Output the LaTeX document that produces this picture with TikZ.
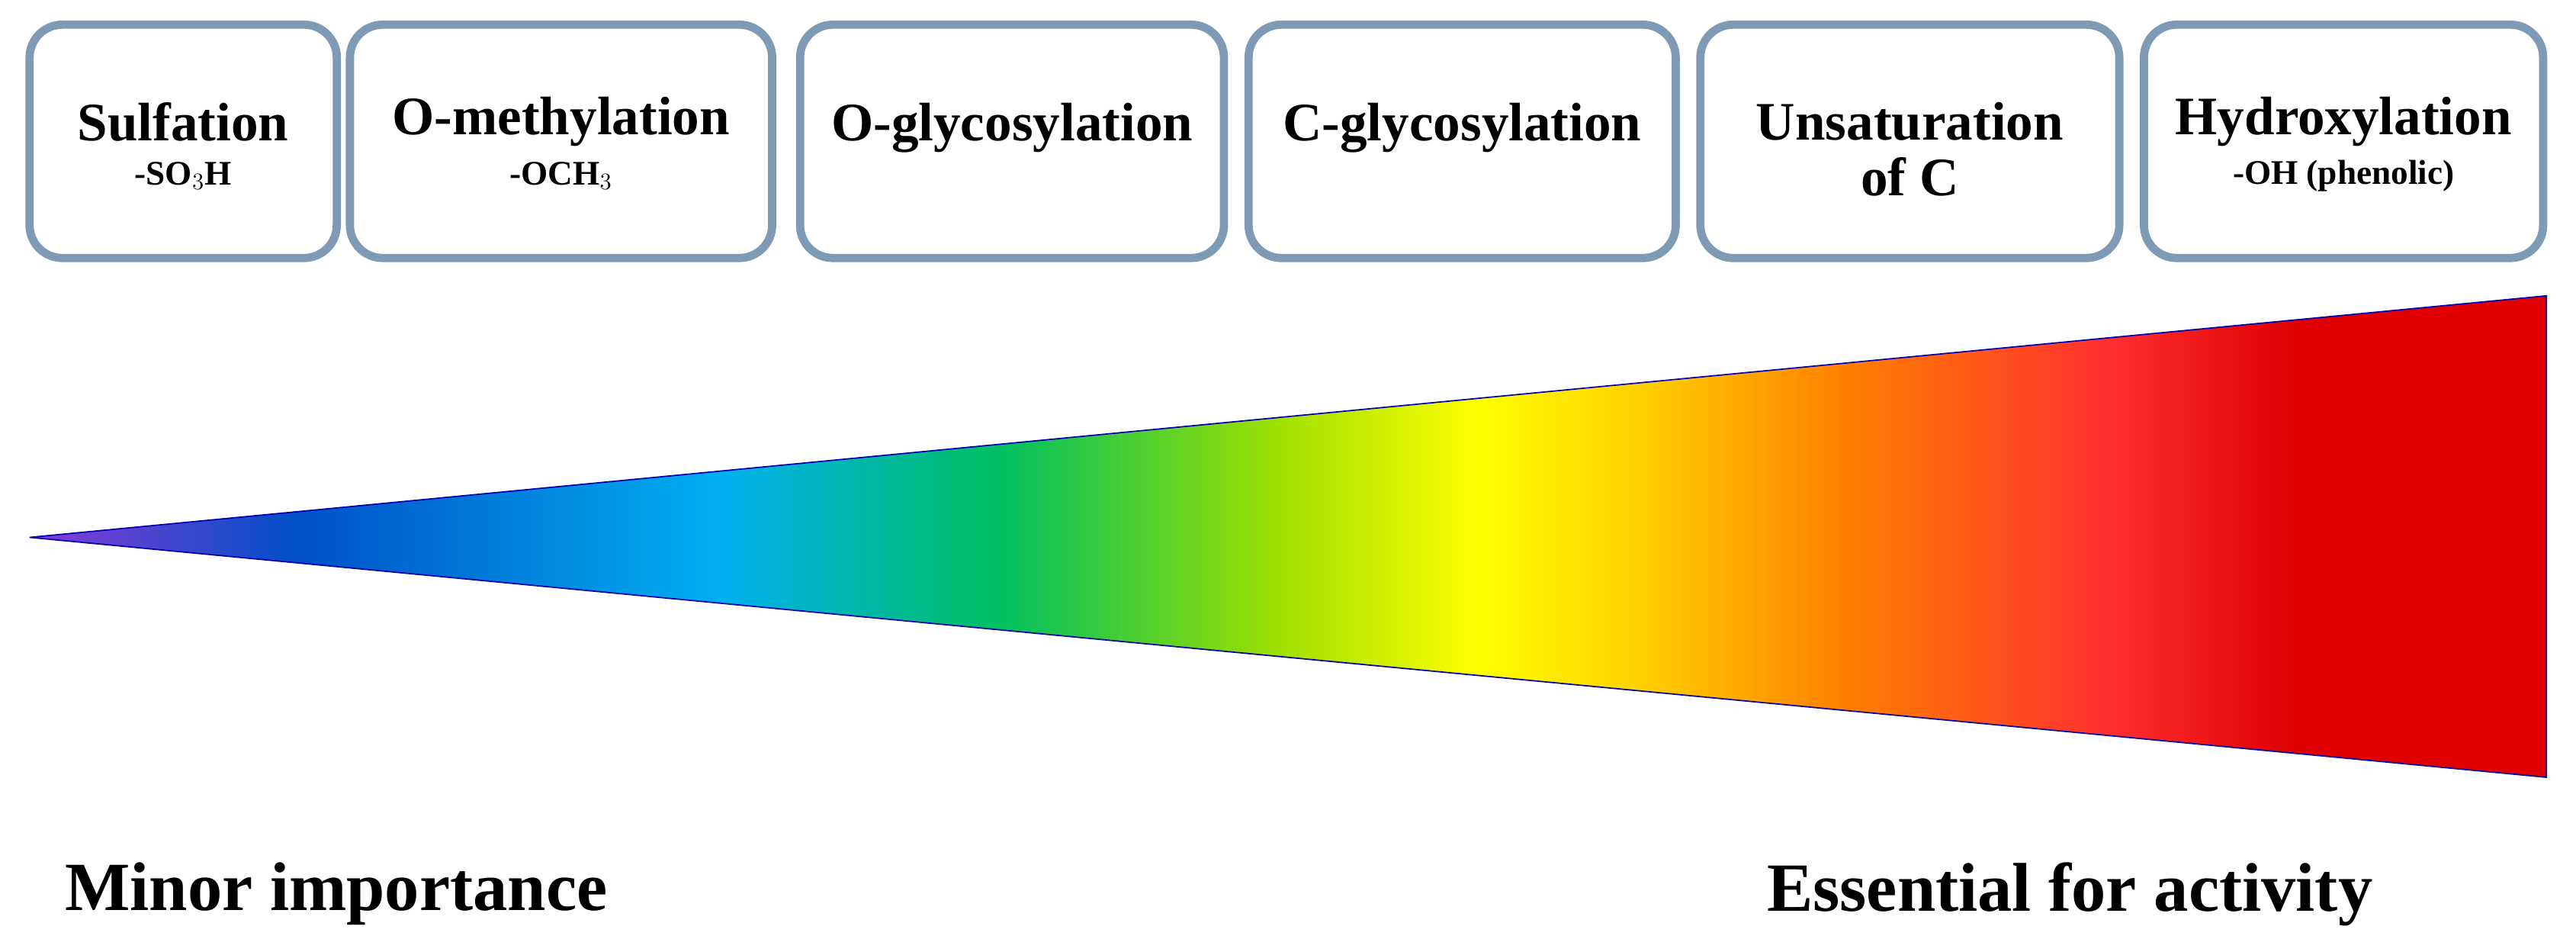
\documentclass[tikz,border=0pt]{standalone}
\usepackage{fontspec}
\setmainfont{Liberation Serif}
\definecolor{boxc}{HTML}{7F9AB5}
\definecolor{c0}{HTML}{8A3AD8}
\definecolor{c1}{HTML}{0050C8}
\definecolor{c2}{HTML}{00B0F0}
\definecolor{c3}{HTML}{00C060}
\definecolor{c4}{HTML}{A0E000}
\definecolor{c5}{HTML}{FFFF00}
\definecolor{c6}{HTML}{FFD000}
\definecolor{c7}{HTML}{FF8000}
\definecolor{c8}{HTML}{FF3030}
\definecolor{c9}{HTML}{E00000}
\pgfdeclarehorizontalshading{rainbow}{100bp}{color(0bp)=(c0); color(25bp)=(c0); color(30.3bp)=(c1); color(38.75bp)=(c2); color(44.3bp)=(c3); color(49.85bp)=(c4); color(53.8bp)=(c5); color(57bp)=(c6); color(61bp)=(c7); color(66.25bp)=(c8); color(70bp)=(c9); color(100bp)=(c9)}
\tikzset{mbox/.style={draw=boxc,line width=5pt,rounded corners=20pt,fill=white},
 ttl/.style={font=\bfseries\fontsize{33}{34}\selectfont,align=center},
 sub/.style={font=\bfseries\fontsize{21}{24}\selectfont},
 big/.style={font=\bfseries\fontsize{42}{48}\selectfont,anchor=west}}
\begin{document}
\begin{tikzpicture}[x=1pt,y=-1pt]
\useasboundingbox (0,0) rectangle (1568,571);
\foreach \n/\a/\b in {b1/18/205,b2/213/470,b3/487/745,b4/760/1020,b5/1035/1290,b6/1305/1548}
  \draw[mbox] (\a,15) rectangle (\b,157) coordinate[pos=0.5] (\n);
\node[ttl] (t1) at ([yshift=12pt]b1) {Sulfation};
\node[sub] (s1) at ([yshift=-21pt]b1) {-SO$_3$H};
\node[ttl] (t2) at ([yshift=12pt]b2) {O-methylation};
\node[sub] (s2) at ([yshift=-21pt]b2) {-OCH$_3$};
\node[ttl] (t3) at ([yshift=8pt]b3) {O-glycosylation};
\node[ttl] (t4) at ([yshift=8pt]b4) {C-glycosylation};
\node[ttl] (t5) at ([yshift=-5pt]b5) {Unsaturation\\of C};
\node[ttl] (t6) at ([yshift=12pt]b6) {Hydroxylation};
\node[sub] (s6) at ([yshift=-21pt]b6) {-OH (phenolic)};
\coordinate (tip) at (18,327);
\coordinate (rt) at (1550,180);
\coordinate (rb) at (1550,473);
\shade[shading=rainbow,draw=blue!70!black,line width=0.8pt] (tip) -- (rt) -- (rb) -- cycle;
\node[big] (lo) at (36,544) {Minor importance};
\node[big] (hi) at (1072,544) {Essential for activity};
\end{tikzpicture}
\end{document}
